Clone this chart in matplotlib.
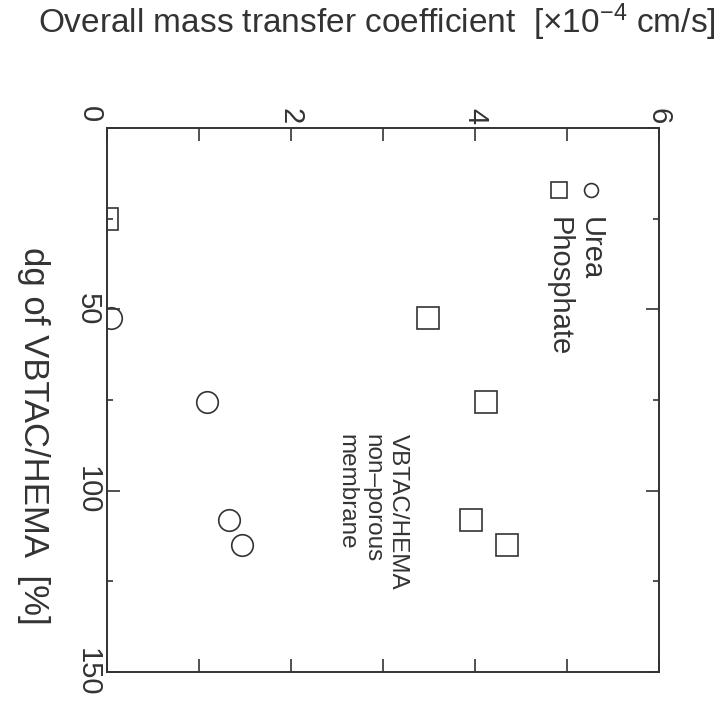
import matplotlib
matplotlib.use("Agg")
import matplotlib.pyplot as plt
from matplotlib.ticker import MultipleLocator

plt.rcParams['font.family'] = ['Liberation Sans', 'DejaVu Sans']
plt.rcParams['mathtext.fontset'] = 'custom'
plt.rcParams['mathtext.rm'] = 'Liberation Sans'
plt.rcParams['mathtext.default'] = 'regular'

# data: dg of VBTAC/HEMA [%] vs overall mass transfer coefficient [x1e-4 cm/s]
urea_dg = [52.5, 75.5, 108, 115]
urea_k = [0.04, 1.09, 1.33, 1.47]
phos_dg = [25, 52.5, 75.5, 108, 115]
phos_k = [0.0, 3.49, 4.12, 3.96, 4.35]

x_ticks = [0, 2, 4, 6]
x_ticklabels = ['', '2', '4', '6']
y_ticks = [0, 50, 100, 150]
y_ticklabels = ['', '50', '100', '150']

title = 'Overall mass transfer coefficient  [\u00d710$^{-4}$ cm/s]'
ylabel = 'dg of VBTAC/HEMA  [%]'
note = 'VBTAC/HEMA\nnon\u2013porous\nmembrane'

ink = '#333333'
fig = plt.figure(figsize=(7.17, 7.07), dpi=100)
ax = fig.add_axes([0.1492, 0.0495, 0.7699, 0.7695])

ax.plot(urea_k, urea_dg, linestyle='none', marker='o', markersize=15.5,
        markerfacecolor='none', markeredgecolor=ink, markeredgewidth=1.2,
        clip_on=True)
ax.plot(phos_k, phos_dg, linestyle='none', marker='s', markersize=16,
        markerfacecolor='none', markeredgecolor=ink, markeredgewidth=1.2,
        clip_on=True)

ax.set_xlim(0, 6)
ax.set_ylim(150, 0)

ax.xaxis.tick_top()
ax.xaxis.set_ticks_position('both')
ax.set_xticks(x_ticks)
ax.set_xticklabels(x_ticklabels)
ax.xaxis.set_minor_locator(MultipleLocator(1))
ax.set_yticks(y_ticks)
ax.set_yticklabels(y_ticklabels)
ax.yaxis.set_minor_locator(MultipleLocator(25))
ax.yaxis.set_ticks_position('both')

ax.tick_params(axis='x', which='both', direction='in', length=9.5, width=1.2,
               color=ink, labeltop=True, labelbottom=False, pad=3,
               labelsize=21, labelcolor=ink, labelrotation=-90)
ax.tick_params(axis='y', which='major', direction='in', length=9.5, width=1.2,
               color=ink, labelsize=21, labelcolor=ink, labelrotation=-90, pad=4)
ax.tick_params(axis='y', which='minor', direction='in', length=4.5, width=1.2,
               color=ink)
for lab in ax.get_yticklabels():
    lab.set_verticalalignment('center')
for lab in ax.get_xticklabels():
    lab.set_horizontalalignment('center')

for sp in ax.spines.values():
    sp.set_linewidth(1.4)
    sp.set_color(ink)

# corner "0" label
ax.annotate('0', xy=(0, 0), xytext=(-12, 10), textcoords='offset points',
            rotation=-90, ha='center', va='center', fontsize=21, color=ink,
            annotation_clip=False)

# note
ax.text(2.88, 84.5, note, rotation=-90, ha='center', va='top',
        multialignment='left', fontsize=17.5, color=ink, linespacing=1.22)

# legend (rotated, manual)
leg_x = [0.877, 0.818]
leg_labels = ['Urea', 'Phosphate']
leg_markers = ['o', 's']
leg_sizes = [10, 11]
for lx, lab, mk, ms in zip(leg_x, leg_labels, leg_markers, leg_sizes):
    ax.plot([lx], [0.886], transform=ax.transAxes, marker=mk, markersize=ms,
            markerfacecolor='none', markeredgecolor=ink, markeredgewidth=1.2,
            linestyle='none', clip_on=False)
    ax.text(lx, 0.837, lab, transform=ax.transAxes, rotation=-90,
            ha='center', va='top', fontsize=21, color=ink)

fig.text(0.525, 0.968, title, ha='center', va='center', fontsize=24, color=ink)
fig.text(0.047, 0.383, ylabel, ha='center', va='center', rotation=-90,
         fontsize=25, color=ink)

fig.savefig('out.png', dpi=100)
